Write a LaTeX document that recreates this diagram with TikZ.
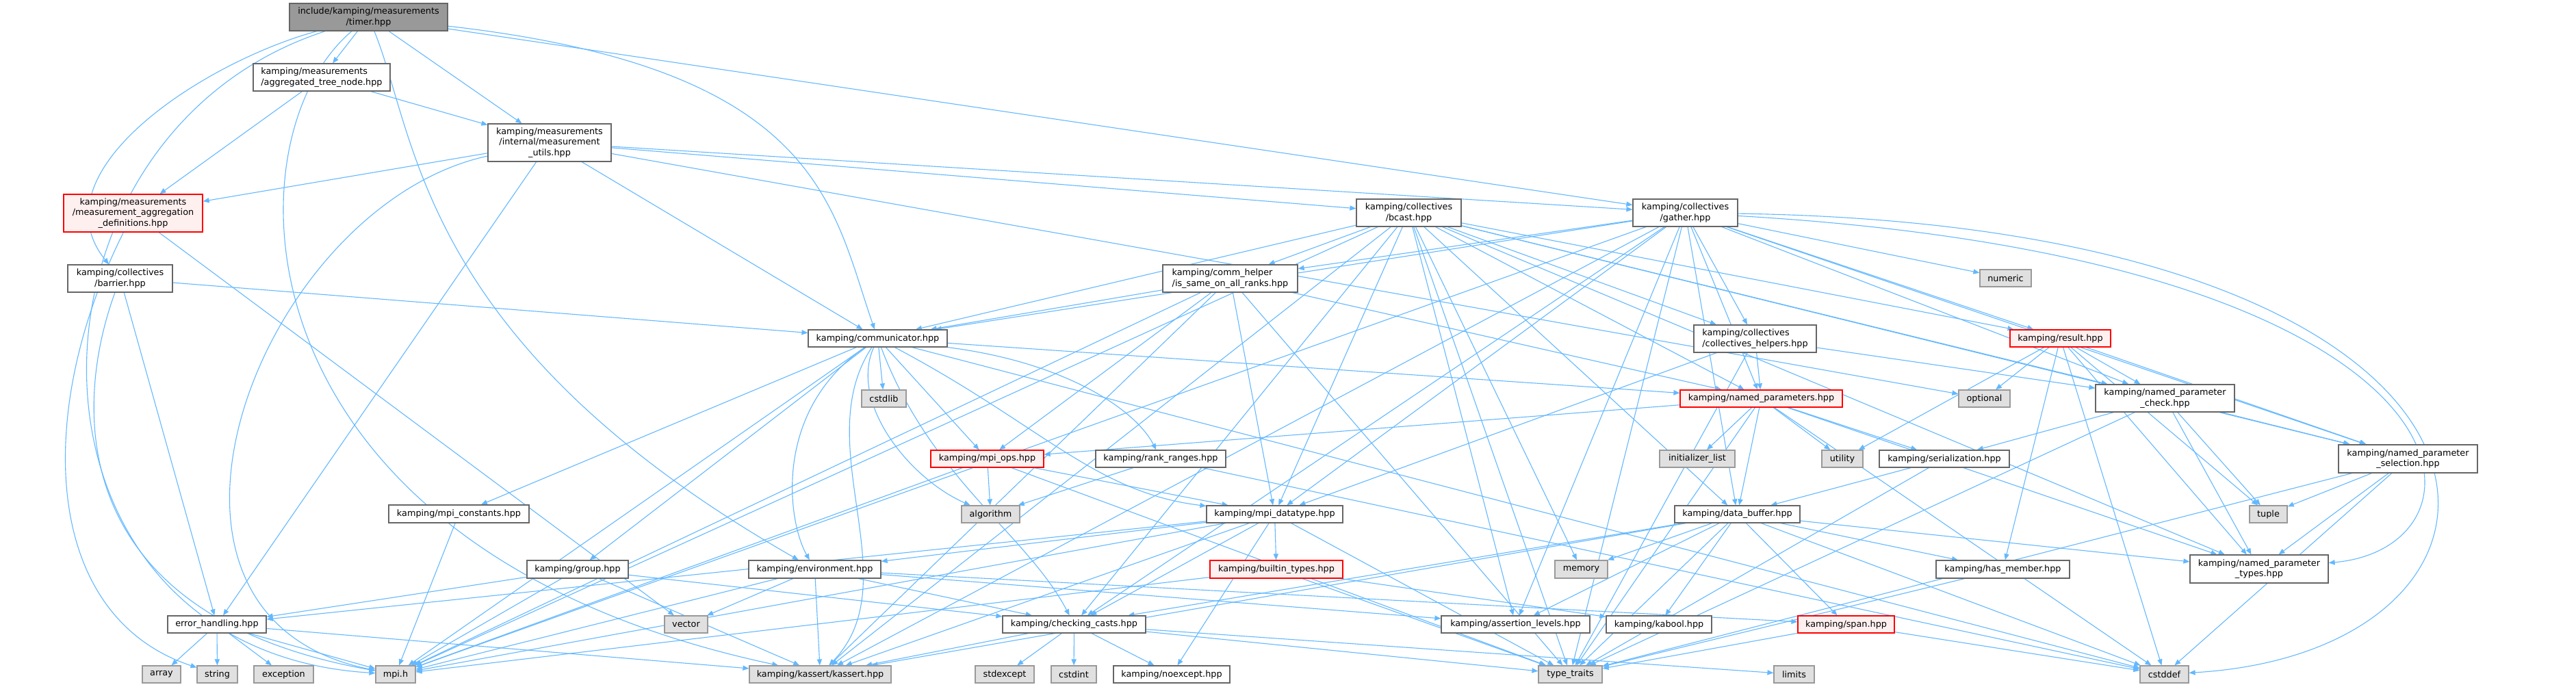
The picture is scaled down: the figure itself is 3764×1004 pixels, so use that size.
\documentclass[tikz,border=0pt]{standalone}
\usepackage{fontspec}
\setmainfont{DejaVu Sans}
\usepackage{tikz}
\usetikzlibrary{arrows.meta,backgrounds}
\definecolor{dxEdge}{HTML}{63B8FF}
\definecolor{dxLine}{HTML}{666666}
\definecolor{dxSysLine}{HTML}{999999}
\definecolor{dxSysFill}{HTML}{E0E0E0}
\definecolor{dxRootFill}{HTML}{999999}
\definecolor{dxRed}{HTML}{FF0000}
\definecolor{dxRedFill}{HTML}{FFF0F0}

\begin{document}
\begin{tikzpicture}[x=0.5pt,y=-0.5pt,
    hdr/.style={draw=dxLine,fill=white,line width=0.6pt,inner sep=0pt,align=center,
      font=\fontsize{6.4}{7.8}\selectfont},
    sys/.style={hdr,draw=dxSysLine,fill=dxSysFill},
    trunc/.style={hdr,draw=dxRed,fill=dxRedFill},
    root/.style={hdr,fill=dxRootFill},
    wh/.style 2 args={minimum width=#1*0.5pt,minimum height=#2*0.5pt},
    dep/.style={draw=dxEdge,line width=0.55pt,-{Triangle[length=4.5pt,width=3.6pt]}}]
  \useasboundingbox (0,0) rectangle (3764,1004);
  % top part: timer and the measurement headers
  \node[root,wh={231}{40}] (timer) at (538.5,25) {include/kamping/measurements\\/timer.hpp};
  \node[hdr,wh={200}{40},align=left] (aggregated) at (470,113) {kamping/measurements\\/aggregated\_tree\_node.hpp};
  \node[hdr,wh={180}{55}] (mutils) at (803,208.5) {kamping/measurements\\/internal/measurement\\\_utils.hpp};
  \node[trunc,wh={203}{55}] (maggdef) at (194.5,311.5) {kamping/measurements\\/measurement\_aggregation\\\_definitions.hpp};
  \node[hdr,wh={153}{40}] (barrier) at (175.5,407) {kamping/collectives\\/barrier.hpp};
  \node[hdr,wh={153}{40}] (bcast) at (2058.5,311) {kamping/collectives\\/bcast.hpp};
  \node[hdr,wh={153}{40}] (gather) at (2462.5,311) {kamping/collectives\\/gather.hpp};
  \node[hdr,wh={197}{40},align=left] (commhelper) at (1797.5,407) {kamping/comm\_helper\\/is\_same\_on\_all\_ranks.hpp};
  \node[hdr,wh={179}{40},align=left] (collhelpers) at (2564.5,495) {kamping/collectives\\/collectives\_helpers.hpp};
  \node[sys,wh={75}{25}] (numeric) at (2930.5,406.5) {numeric};
  % middle part
  \node[hdr,wh={203}{25}] (communicator) at (1282.5,494.5) {kamping/communicator.hpp};
  \node[trunc,wh={147}{25}] (result) at (3010.5,494.5) {kamping/result.hpp};
  \node[sys,wh={65}{25}] (cstdlib) at (1291.5,582.5) {cstdlib};
  \node[trunc,wh={237}{25}] (namedparams) at (2573.5,582.5) {kamping/named\_parameters.hpp};
  \node[sys,wh={75}{25}] (optional) at (2899.5,582.5) {optional};
  \node[hdr,wh={203}{40}] (npcheck) at (3163.5,582) {kamping/named\_parameter\\\_check.hpp};
  \node[trunc,wh={165}{25}] (mpiops) at (1442.5,670.5) {kamping/mpi\_ops.hpp};
  \node[hdr,wh={190}{25}] (rankranges) at (1696,670.5) {kamping/rank\_ranges.hpp};
  \node[sys,wh={110}{25}] (initlist) at (2480,670.5) {initializer\_list};
  \node[sys,wh={60}{25}] (utility) at (2692,670.5) {utility};
  \node[hdr,wh={190}{25}] (serialization) at (2841,670.5) {kamping/serialization.hpp};
  \node[hdr,wh={203}{41}] (npselection) at (3518.5,670.5) {kamping/named\_parameter\\\_selection.hpp};
  \node[hdr,wh={205}{26}] (mpiconst) at (670.5,751) {kamping/mpi\_constants.hpp};
  \node[sys,wh={85}{25}] (algorithm) at (1447.5,751.5) {algorithm};
  \node[hdr,wh={199}{25}] (mpidatatype) at (1862.5,751.5) {kamping/mpi\_datatype.hpp};
  \node[hdr,wh={183}{25}] (databuffer) at (2538.5,751.5) {kamping/data\_buffer.hpp};
  \node[sys,wh={55}{25}] (tuple) at (3314.5,751.5) {tuple};
  \node[hdr,wh={148}{26}] (group) at (844,832) {kamping/group.hpp};
  \node[hdr,wh={193}{26}] (environment) at (1190.5,832) {kamping/environment.hpp};
  \node[trunc,wh={194}{26}] (builtintypes) at (1865,832) {kamping/builtin\_types.hpp};
  \node[sys,wh={77}{26}] (memory) at (2310.5,832) {memory};
  \node[hdr,wh={195}{26}] (hasmember) at (2926.5,832) {kamping/has\_member.hpp};
  \node[hdr,wh={202}{41}] (nptypes) at (3301,831.5) {kamping/named\_parameter\\\_types.hpp};
  % lower part
  \node[hdr,wh={144}{25}] (errorh) at (317,912.5) {error\_handling.hpp};
  \node[sys,wh={63}{25}] (vector) at (1002.5,912.5) {vector};
  \node[hdr,wh={209}{25}] (checkingcasts) at (1569.5,912.5) {kamping/checking\_casts.hpp};
  \node[hdr,wh={217}{25}] (assertlevels) at (2214.5,912.5) {kamping/assertion\_levels.hpp};
  \node[hdr,wh={154}{25}] (kabool) at (2424,912.5) {kamping/kabool.hpp};
  \node[trunc,wh={141}{25}] (span) at (2697.5,912.5) {kamping/span.hpp};
  % bottom row
  \node[sys,wh={56}{25}] (array) at (236,985.5) {array};
  \node[sys,wh={59}{25}] (string) at (317.5,985.5) {string};
  \node[sys,wh={87}{25}] (exception) at (414.5,985.5) {exception};
  \node[sys,wh={58}{25}] (mpih) at (578,985.5) {mpi.h};
  \node[sys,wh={207}{25}] (kassert) at (1198.5,985.5) {kamping/kassert/kassert.hpp};
  \node[sys,wh={86}{25}] (stdexcept) at (1468,985.5) {stdexcept};
  \node[sys,wh={66}{25}] (cstdint) at (1569,985.5) {cstdint};
  \node[hdr,wh={170}{25}] (noexcept) at (1712,985.5) {kamping/noexcept.hpp};
  \node[sys,wh={93}{25}] (typetraits) at (2294.5,985.5) {type\_traits};
  \node[sys,wh={59}{25}] (limits) at (2621.5,985.5) {limits};
  \node[sys,wh={71}{25}] (cstddef) at (3162.5,985.5) {cstddef};

  \begin{scope}[on background layer]
    % curved includes
    \draw[dep] (timer) .. controls (0,200) and (0,950) .. (mpih);
    \draw[dep] (timer) .. controls (300,90) and (50,250) .. (barrier);
    \draw[dep] (timer) .. controls (330,200) and (330,800) .. (kassert);
    \draw[dep] (timer) .. controls (610,200) and (610,500) .. (environment);
    \draw[dep] (timer) .. controls (1200,100) and (1215,300) .. (communicator);
    \draw[dep] (maggdef) .. controls (50,600) and (60,900) .. (string);
    \draw[dep] (barrier) .. controls (105,600) and (100,900) .. (mpih);
    \draw[dep] (mutils) .. controls (380,300) and (150,900) .. (mpih);
    \draw[dep] (communicator) .. controls (1240,590) and (1330,700) .. (algorithm);
    \draw[dep] (communicator) .. controls (1130,600) and (1150,760) .. (environment);
    \draw[dep] (communicator) .. controls (1180,650) and (1330,850) .. (kassert);
    \draw[dep] (communicator) .. controls (1360,700) and (1500,780) .. (checkingcasts);
    \draw[dep] (communicator) .. controls (1520,620) and (1600,720) .. (mpidatatype);
    \draw[dep] (communicator) .. controls (1560,530) and (1660,600) .. (rankranges);
    \draw[dep] (gather) .. controls (3650,380) and (3660,800) .. (nptypes);
    \draw[dep] (gather) .. controls (3760,330) and (3760,950) .. (cstddef);
    % straight includes, one loop per header
    \foreach \dst in {aggregated,mutils,gather}
      \draw[dep] (timer) -- (\dst);
    \foreach \dst in {maggdef,mutils}
      \draw[dep] (aggregated) -- (\dst);
    \foreach \dst in {maggdef,bcast,gather,communicator,errorh,optional}
      \draw[dep] (mutils) -- (\dst);
    \draw[dep] (maggdef) -- (vector);
    \foreach \dst in {communicator,errorh}
      \draw[dep] (barrier) -- (\dst);
    \foreach \dst in {communicator,commhelper,collhelpers,namedparams,databuffer,mpidatatype,assertlevels,checkingcasts,kassert,mpih,npcheck,npselection,nptypes,result,typetraits,memory}
      \draw[dep] (bcast) -- (\dst);
    \foreach \dst in {numeric,communicator,commhelper,collhelpers,namedparams,databuffer,mpidatatype,assertlevels,checkingcasts,kassert,mpih,npcheck,npselection,result,typetraits}
      \draw[dep] (gather) -- (\dst);
    \foreach \dst in {communicator,mpiops,mpidatatype,namedparams,kassert,mpih,typetraits}
      \draw[dep] (commhelper) -- (\dst);
    \foreach \dst in {namedparams,mpidatatype,npcheck,typetraits}
      \draw[dep] (collhelpers) -- (\dst);
    \foreach \dst in {cstdlib,mpiops,mpih,group,mpiconst,namedparams,cstddef}
      \draw[dep] (communicator) -- (\dst);
    \foreach \dst in {optional,npcheck,hasmember,npselection,tuple,nptypes,utility,cstddef}
      \draw[dep] (result) -- (\dst);
    \foreach \dst in {initlist,utility,serialization,databuffer,mpiops,typetraits,nptypes,cstddef}
      \draw[dep] (namedparams) -- (\dst);
    \foreach \dst in {databuffer,typetraits}
      \draw[dep] (serialization) -- (\dst);
    \foreach \dst in {serialization,typetraits,nptypes,tuple,npselection}
      \draw[dep] (npcheck) -- (\dst);
    \foreach \dst in {tuple,nptypes,typetraits,cstddef}
      \draw[dep] (npselection) -- (\dst);
    \foreach \dst in {algorithm,mpidatatype,mpih,typetraits}
      \draw[dep] (mpiops) -- (\dst);
    \foreach \dst in {algorithm,cstddef}
      \draw[dep] (rankranges) -- (\dst);
    \draw[dep] (mpiconst) -- (mpih);
    \foreach \dst in {memory,assertlevels,kabool,span,checkingcasts,kassert,typetraits,hasmember,nptypes,cstddef}
      \draw[dep] (databuffer) -- (\dst);
    \foreach \dst in {errorh,environment,kassert,checkingcasts,noexcept,builtintypes,typetraits,mpih}
      \draw[dep] (mpidatatype) -- (\dst);
    \foreach \dst in {mpih,vector,kassert,checkingcasts,assertlevels,span}
      \draw[dep] (environment) -- (\dst);
    \foreach \dst in {mpih,kabool,typetraits}
      \draw[dep] (builtintypes) -- (\dst);
    \foreach \dst in {errorh,mpih,kassert,checkingcasts}
      \draw[dep] (group) -- (\dst);
    \foreach \dst in {array,string,exception,mpih,kassert}
      \draw[dep] (errorh) -- (\dst);
    \foreach \dst in {stdexcept,cstdint,noexcept,kassert,typetraits,limits}
      \draw[dep] (checkingcasts) -- (\dst);
    \draw[dep] (hasmember) -- (typetraits);
    \foreach \dst in {typetraits,cstddef}
      \draw[dep] (span) -- (\dst);
  \end{scope}
\end{tikzpicture}
\end{document}
